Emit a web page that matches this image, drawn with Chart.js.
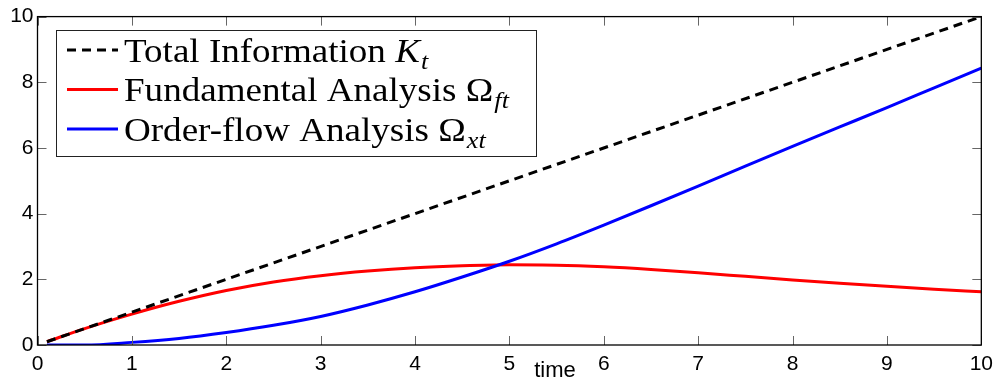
<!DOCTYPE html>
<html>
<head>
<meta charset="utf-8">
<script src="https://cdn.jsdelivr.net/npm/chart.js@4/dist/chart.umd.min.js"></script>
<style>
  html, body { margin: 0; padding: 0; background: #fff; }
</style>
</head>
<body>
<canvas id="graph" width="1000" height="381"></canvas>
<script>
// data
var totalTime = [0.1, 10];
var totalInfo = [0.1, 10];

var time = [0.1, 0.5, 1, 1.5, 2, 2.5, 3, 3.5, 4, 4.5, 5, 5.5, 6, 6.5, 7, 7.5, 8, 8.5, 9, 9.5, 10];
var fundamental = [0.1, 0.5, 0.94, 1.33, 1.66, 1.92, 2.11, 2.25, 2.35, 2.41, 2.44, 2.43, 2.38, 2.3, 2.2, 2.09, 1.98, 1.88, 1.79, 1.7, 1.62];
var orderFlow = [0, 0, 0.08, 0.2, 0.38, 0.6, 0.87, 1.22, 1.62, 2.07, 2.55, 3.08, 3.65, 4.24, 4.84, 5.45, 6.05, 6.64, 7.23, 7.83, 8.43];

var xTicks = [0, 1, 2, 3, 4, 5, 6, 7, 8, 9, 10];
var yTicks = [0, 2, 4, 6, 8, 10];

function pts(xs, ys) {
    return xs.map(function (x, i) { return { x: x, y: ys[i] }; });
}

// legend entries: main text, math symbol, subscript
var legendItems = [
    { text: 'Total Information ', sym: 'K', symItalic: true, sub: 't', color: '#000', dash: [9, 6] },
    { text: 'Fundamental Analysis ', sym: 'Ω', symItalic: false, sub: 'ft', color: '#ff0000', dash: [] },
    { text: 'Order-flow Analysis ', sym: 'Ω', symItalic: false, sub: 'xt', color: '#0000ff', dash: [] }
];

// box, inward ticks, legend, axis title
var matlabLook = {
    id: 'matlabLook',
    afterDatasetsDraw: function (chart) {
        var c = chart.ctx, a = chart.chartArea;
        var xs = chart.scales.x, ys = chart.scales.y;
        c.save();
        c.strokeStyle = '#666';
        c.lineWidth = 1;
        xTicks.forEach(function (v) {
            var px = Math.round(xs.getPixelForValue(v)) + 0.5;
            c.beginPath();
            c.moveTo(px, a.bottom); c.lineTo(px, a.bottom - 9);
            c.moveTo(px, a.top); c.lineTo(px, a.top + 9);
            c.stroke();
        });
        yTicks.forEach(function (v) {
            var py = Math.round(ys.getPixelForValue(v)) + 0.5;
            c.beginPath();
            c.moveTo(a.left, py); c.lineTo(a.left + 9, py);
            c.moveTo(a.right, py); c.lineTo(a.right - 9, py);
            c.stroke();
        });
        c.strokeStyle = '#000';
        c.lineWidth = 1.3;
        c.strokeRect(a.left, a.top, a.right - a.left, a.bottom - a.top);

        // axis title
        c.fillStyle = '#000';
        c.font = '22px "Liberation Sans", Arial, sans-serif';
        c.textAlign = 'center';
        c.textBaseline = 'alphabetic';
        c.fillText('time', 555, 377);

        // legend
        var bx = 56.5, by = 30.5, bw = 480, bh = 126;
        c.fillStyle = '#fff';
        c.fillRect(bx, by, bw, bh);
        c.strokeStyle = '#222';
        c.lineWidth = 1;
        c.strokeRect(bx, by, bw, bh);
        var baselines = [61.5, 101, 140.5];
        legendItems.forEach(function (it, i) {
            var base = baselines[i];
            c.beginPath();
            c.setLineDash(it.dash);
            c.strokeStyle = it.color;
            c.lineWidth = 3;
            c.moveTo(67, base - 11.5);
            c.lineTo(118, base - 11.5);
            c.stroke();
            c.setLineDash([]);

            c.fillStyle = '#000';
            c.textAlign = 'left';
            c.font = '34px "Liberation Serif", "Times New Roman", serif';
            c.save();
            c.translate(124, base);
            c.scale(1.09, 1);
            c.fillText(it.text, 0, 0);
            var w = c.measureText(it.text).width;
            c.font = (it.symItalic ? 'italic ' : '') + '34px "Liberation Serif", "Times New Roman", serif';
            c.fillText(it.sym, w, 0);
            var w2 = c.measureText(it.sym).width;
            c.font = 'italic 24px "Liberation Serif", "Times New Roman", serif';
            c.fillText(it.sub, w + w2 + 1, 7);
            c.restore();
        });
        c.restore();
    }
};

var ctx = document.getElementById('graph');

var chart = new Chart(ctx, {
    type: 'line',
    data: {
        datasets: [{
            label: 'Total Information',
            data: pts(totalTime, totalInfo),
            borderColor: '#000',
            borderWidth: 3,
            borderDash: [9, 6],
            pointRadius: 0,
            order: 0
        }, {
            label: 'Fundamental Analysis',
            data: pts(time, fundamental),
            borderColor: '#ff0000',
            borderWidth: 3,
            pointRadius: 0,
            cubicInterpolationMode: 'monotone',
            order: 2
        }, {
            label: 'Order-flow Analysis',
            data: pts(time, orderFlow),
            borderColor: '#0000ff',
            borderWidth: 3,
            pointRadius: 0,
            cubicInterpolationMode: 'monotone',
            order: 1
        }]
    },
    options: {
        responsive: false,
        animation: false,
        layout: { padding: { top: 13, right: 17, left: 0, bottom: 0 } },
        plugins: {
            legend: { display: false },
            tooltip: { enabled: false }
        },
        scales: {
            x: {
                type: 'linear',
                min: 0,
                max: 10,
                afterBuildTicks: function (s) { s.ticks = xTicks.map(function (v) { return { value: v }; }); },
                afterFit: function (s) { s.height = 36; },
                grid: { display: false, drawTicks: false },
                border: { display: false },
                ticks: {
                    padding: 7,
                    maxRotation: 0,
                    color: '#000',
                    font: { family: '"Liberation Sans", Arial, sans-serif', size: 21 }
                }
            },
            y: {
                min: 0,
                max: 10,
                afterBuildTicks: function (s) { s.ticks = yTicks.map(function (v) { return { value: v }; }); },
                afterFit: function (s) { s.width = 37.5; },
                grid: { display: false, drawTicks: false },
                border: { display: false },
                ticks: {
                    padding: 4,
                    color: '#000',
                    font: { family: '"Liberation Sans", Arial, sans-serif', size: 21 }
                }
            }
        }
    },
    plugins: [matlabLook]
});
</script>
</body>
</html>
